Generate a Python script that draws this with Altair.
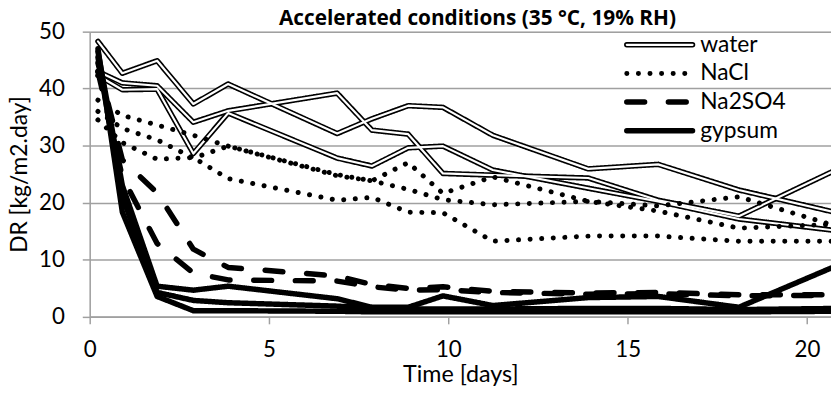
import altair as alt
import pandas as pd

# ---- data ----
times = [0.23, 0.91, 1.88, 2.89, 3.86, 6.9, 7.87, 8.88, 9.85, 11.24, 13.9, 15.85, 18.1, 20.9]

water_1 = [48.3, 42.7, 44.9, 37.3, 40.8, 32.1, 34.7, 37.0, 36.7, 31.8, 25.9, 26.7, 22.2, 18.1]
water_2 = [43.0, 41.0, 40.5, 34.1, 36.1, 39.2, 32.7, 32.0, 25.1, 24.8, 24.3, 20.4, 17.6, 26.0]
water_3 = [42.3, 39.8, 39.9, 28.6, 35.7, 27.8, 26.4, 29.6, 29.9, 25.7, 22.5, 20.2, 17.1, 15.0]

nacl_1 = [38.0, 35.3, 33.6, 31.8, 29.9, 24.9, 23.8, 27.0, 21.6, 24.5, 20.2, 18.5, 15.5, 16.2]
nacl_2 = [36.0, 33.0, 31.0, 27.8, 29.9, 24.7, 23.8, 22.3, 20.5, 19.6, 20.2, 19.4, 21.0, 15.7]
nacl_3 = [34.5, 30.5, 27.6, 27.9, 24.2, 20.4, 20.9, 18.3, 18.2, 13.2, 14.1, 14.1, 13.2, 13.2]

na2so4_1 = [44.5, 27.5, 21.7, 11.8, 8.6, 7.1, 5.6, 4.9, 5.2, 4.4, 4.1, 4.2, 3.8, 3.8]
na2so4_2 = [43.0, 24.5, 12.8, 7.6, 6.4, 6.2, 5.2, 4.6, 4.7, 4.2, 3.9, 4.0, 3.6, 3.7]

gypsum_1 = [47.0, 18.3, 3.5, 1.0, 1.0, 0.9, 0.8, 0.8, 0.8, 0.8, 0.8, 0.8, 0.8, 0.9]
gypsum_2 = [46.5, 23.0, 5.3, 4.6, 5.3, 3.1, 1.6, 1.6, 3.6, 1.9, 3.3, 3.5, 1.6, 9.1]
gypsum_3 = [45.5, 21.0, 4.2, 2.8, 2.4, 1.8, 1.5, 1.3, 1.3, 1.3, 1.4, 1.4, 1.2, 1.4]

groups = ["water", "NaCl", "Na2SO4", "gypsum"]
series = {
    "water": [water_1, water_2, water_3],
    "NaCl": [nacl_1, nacl_2, nacl_3],
    "Na2SO4": [na2so4_1, na2so4_2],
    "gypsum": [gypsum_1, gypsum_2, gypsum_3],
}

x_ticks = [0, 5, 10, 15, 20]
y_ticks = [0, 10, 20, 30, 40, 50]
X_MAX = 20.67
TITLE = "Accelerated conditions (35 °C, 19% RH)"

rows = []
for g in groups:
    for i, vals in enumerate(series[g]):
        for t, v in zip(times, vals):
            rows.append({"t": t, "v": v, "group": g, "run": f"{g}-{i + 1}"})
df = pd.DataFrame(rows)
water_df = df[df["group"] == "water"]
other_df = df[df["group"] != "water"]
legend_df = pd.DataFrame({"group": groups})
title_df = pd.DataFrame({"title": [TITLE]})

# ---- styling ----
FONT = "Lato"
GRAY = "#a0a0a0"

xaxis = alt.Axis(values=x_ticks, grid=False, domainColor=GRAY, domainWidth=1.5,
                 tickColor=GRAY, tickWidth=1.5, tickSize=7.5,
                 labelFont=FONT, labelFontSize=22.5, labelColor="black",
                 labelPadding=15, labelFlush=False, labelOverlap=False,
                 title="Time [days]", titleFont=FONT, titleFontSize=23.5,
                 titleFontWeight="normal", titleColor="black",
                 titleY=66, titleBaseline="alphabetic")
yaxis = alt.Axis(values=y_ticks, grid=True, gridColor=GRAY, gridWidth=1.5,
                 domainColor=GRAY, domainWidth=1.5,
                 tickColor=GRAY, tickWidth=1.5, tickSize=7.5,
                 labelFont=FONT, labelFontSize=22.5, labelColor="black",
                 labelPadding=18, labelFlush=False, labelOverlap=False,
                 title="DR [kg/m2.day]", titleFont=FONT, titleFontSize=23,
                 titleFontWeight="normal", titleColor="black",
                 titleAngle=270, titleX=-63.5, titleY=143.75,
                 titleAlign="center", titleBaseline="alphabetic")

x = alt.X("t:Q", scale=alt.Scale(domain=[0, X_MAX], nice=False, zero=False), axis=xaxis)
y = alt.Y("v:Q", scale=alt.Scale(domain=[0, 50], nice=False), axis=yaxis)

dash_scale = alt.Scale(domain=groups, range=[[1, 0], [0.1, 11.6], [18, 24], [1, 0]])
dash = alt.StrokeDash("group:N", scale=dash_scale, legend=None)
width_cond = alt.condition("datum.group === 'NaCl'", alt.value(5), alt.value(5.5))

line_style = dict(clip=True, strokeCap="round", strokeJoin="round")

water_outline = alt.Chart(water_df).mark_line(color="black", strokeWidth=5.5, **line_style).encode(
    x=x, y=y, detail="run:N", strokeDash=dash, order=alt.Order("t:Q"))
water_core = alt.Chart(water_df).mark_line(color="white", strokeWidth=2.2, **line_style).encode(
    x=x, y=y, detail="run:N", order=alt.Order("t:Q"))
others = alt.Chart(other_df).mark_line(color="black", **line_style).encode(
    x=x, y=y, detail="run:N", strokeDash=dash, strokeWidth=width_cond,
    order=alt.Order("t:Q"))

plot = alt.layer(water_outline, water_core, others)

# ---- legend (drawn from the group list through its own point scale) ----
ly = alt.Y("group:N", scale=alt.Scale(type="point", domain=groups, range=[13.3, 100.0],
                                      padding=0), axis=None)
leg_line = alt.Chart(legend_df).mark_rule(color="black", strokeCap="round").encode(
    x=alt.value(542.3), x2=alt.value(608.7), y=ly, strokeDash=dash,
    strokeWidth=width_cond)
leg_core = alt.Chart(legend_df).transform_filter("datum.group === 'water'").mark_rule(
    color="white", strokeCap="round", strokeWidth=2.2).encode(
    x=alt.value(542.3), x2=alt.value(608.7), y=ly)
leg_text = alt.Chart(legend_df).mark_text(
    align="left", baseline="middle", font=FONT, fontSize=23, color="black").encode(
    x=alt.value(616.5), y=ly, text="group:N")

# ---- chart title (bold, above the plot) ----
title_text = alt.Chart(title_df).mark_text(
    align="center", baseline="alphabetic", font="Open Sans", fontSize=21,
    fontWeight="bold", color="black").encode(
    x=alt.value(391.5), y=alt.value(-7.2), text="title:N")

legend = alt.layer(leg_line, leg_core, leg_text, title_text)

chart = alt.layer(plot, legend).resolve_scale(y="independent").properties(
    width=748.5, height=287.5,
    autosize=alt.AutoSizeParams(type="none"),
    padding={"left": 82.5, "top": 22, "right": 0, "bottom": 78.5},
).configure_view(stroke=None).configure(background="white")

chart.save("out.html", embed_options={"renderer": "svg", "actions": False})
